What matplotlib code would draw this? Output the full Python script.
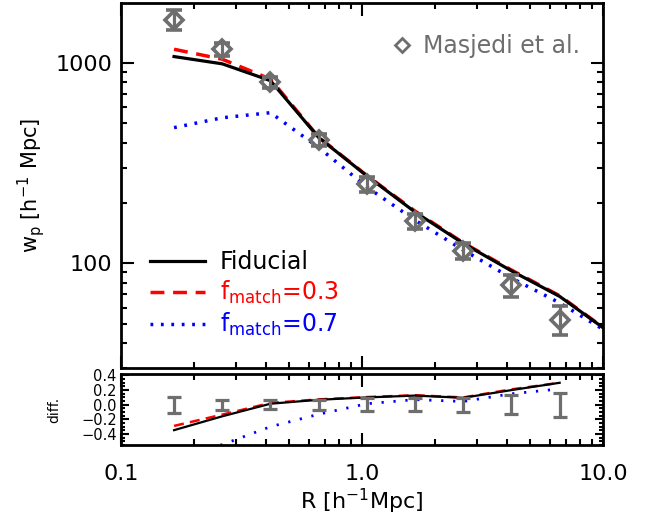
import matplotlib
matplotlib.use("Agg")
import matplotlib.pyplot as plt
from matplotlib.lines import Line2D
from matplotlib.ticker import LogLocator, FixedLocator, MultipleLocator, NullFormatter, FixedFormatter
import numpy as np

plt.rcParams['font.family'] = ['DejaVu Sans']

# ---- data ----
r_data = [0.166, 0.263, 0.417, 0.661, 1.047, 1.66, 2.63, 4.17, 6.61]
wp_data = [1645, 1169, 800, 412, 249, 163, 115.6, 77.5, 52.3]
wp_err = [181, 82, 50, 29, 21, 14, 11.2, 10, 8.6]
diff_err = [0.11, 0.07, 0.063, 0.07, 0.086, 0.086, 0.097, 0.13, 0.165]

r_model = [0.166, 0.263, 0.417, 0.661, 1.047, 1.66, 2.63, 4.17, 6.61, 10.0]
wp_fid = [1075, 989, 815, 424, 273, 180, 125.7, 91.6, 68.3, 47.7]
wp_f03 = [1169, 1043, 830, 426, 274, 182, 126.5, 92.5, 68.8, 47.9]
wp_f07 = [475, 532, 564, 378, 240, 164, 116.4, 84.3, 63.4, 46.8]

r_diff = [0.166, 0.263, 0.417, 0.661, 1.047, 1.66, 2.63, 4.17, 6.61]
diff_fid = [-0.347, -0.158, 0.014, 0.068, 0.10, 0.125, 0.095, 0.20, 0.30]
diff_f03 = [-0.289, -0.135, 0.025, 0.073, 0.105, 0.13, 0.10, 0.21, 0.30]
diff_f07 = [-0.71, -0.545, -0.30, -0.13, 0.014, 0.07, 0.045, 0.15, 0.216]

xticks = [0.1, 1.0, 10.0]
xticklabels = ['0.1', '1.0', '10.0']
yticks_main = [100, 1000]
yticklabels_main = ['100', '1000']
yticks_diff = [-0.4, -0.2, 0.0, 0.2, 0.4]
yticklabels_diff = ['\u22120.4', '\u22120.2', '0.0', '0.2', '0.4']

gray = '#6e6e6e'

fig = plt.figure(figsize=(6.52, 5.23), dpi=100)
ax = fig.add_axes([0.1856, 0.2964, 0.7392, 0.6979])
axd = fig.add_axes([0.1856, 0.1491, 0.7392, 0.1358])

# main panel
ax.plot(r_model, wp_fid, color='black', lw=2.3, label='Fiducial', zorder=3)
ax.plot(r_model, wp_f03, color='red', lw=2.5, ls=(0, (4, 2.5)), label=r'f$_{\mathrm{match}}$=0.3', zorder=2)
ax.plot(r_model, wp_f07, color='blue', lw=2.5, ls=(0, (0.8, 2.2)), label=r'f$_{\mathrm{match}}$=0.7', zorder=2)
ax.errorbar(r_data, wp_data, yerr=wp_err, fmt='D', ms=9, mfc='none', mec=gray, mew=2.6,
            ecolor=gray, elinewidth=2.3, capsize=5.5, capthick=2.3, zorder=4)

ax.set_xscale('log')
ax.set_yscale('log')
ax.set_xlim(0.1, 10.0)
ax.set_ylim(30, 1990)

leg = ax.legend(loc='lower left', bbox_to_anchor=(0.04, 0.056), frameon=False, fontsize=17,
                handlelength=2.33, handletextpad=0.64, labelspacing=0.2, labelcolor='linecolor',
                borderaxespad=0)

h = Line2D([], [], marker='D', ls='none', mfc='none', mec=gray, mew=2, ms=7)
leg2 = ax.legend([h], ['Masjedi et al.'], loc='upper right', bbox_to_anchor=(0.972, 0.94),
                 frameon=False, fontsize=17, labelcolor=gray, handlelength=1.0,
                 handletextpad=0.4, borderaxespad=0)
ax.add_artist(leg)

ax.set_ylabel(r'w$_\mathrm{p}$ [h$^{-1}$ Mpc]', fontsize=15, labelpad=6)

# diff panel
axd.plot(r_diff, diff_fid, color='black', lw=1.6, zorder=3)
axd.plot(r_diff, diff_f03, color='red', lw=1.8, ls=(0, (4, 2.5)), zorder=2)
axd.plot(r_diff, diff_f07, color='blue', lw=2.0, ls=(0, (0.8, 3.5)), zorder=2)
axd.errorbar(r_data, np.zeros(len(r_data)), yerr=diff_err, fmt='none', ecolor=gray,
             elinewidth=2.3, capsize=5, capthick=2.3, zorder=4)
axd.set_xscale('log')
axd.set_xlim(0.1, 10.0)
axd.set_ylim(-0.55, 0.42)
axd.set_ylabel('diff.', fontsize=10, labelpad=14)
axd.set_xlabel(r'R [h$^{-1}$Mpc]', fontsize=16, labelpad=2)

for a in (ax, axd):
    a.xaxis.set_major_locator(FixedLocator(xticks))
    a.xaxis.set_minor_locator(LogLocator(base=10, subs=np.arange(2, 10), numticks=20))
    a.xaxis.set_minor_formatter(NullFormatter())
    a.tick_params(which='both', direction='in', top=True, right=True, width=1.5)
    a.tick_params(which='major', length=9)
    a.tick_params(which='minor', length=4.5)
    for s in a.spines.values():
        s.set_linewidth(2)

ax.xaxis.set_major_formatter(NullFormatter())
ax.yaxis.set_major_locator(FixedLocator(yticks_main))
ax.yaxis.set_major_formatter(FixedFormatter(yticklabels_main))
ax.yaxis.set_minor_locator(LogLocator(base=10, subs=np.arange(2, 10), numticks=20))
ax.yaxis.set_minor_formatter(NullFormatter())
ax.tick_params(axis='y', which='major', labelsize=16, pad=6)

axd.xaxis.set_major_formatter(FixedFormatter(xticklabels))
axd.tick_params(axis='x', which='major', labelsize=16, pad=14)
axd.yaxis.set_major_locator(FixedLocator(yticks_diff))
axd.yaxis.set_major_formatter(FixedFormatter(yticklabels_diff))
axd.yaxis.set_minor_locator(MultipleLocator(0.05))
axd.tick_params(axis='y', which='major', labelsize=10.5, length=6, pad=3)
axd.tick_params(axis='y', which='minor', length=3)

fig.savefig('out.png', dpi=100)
